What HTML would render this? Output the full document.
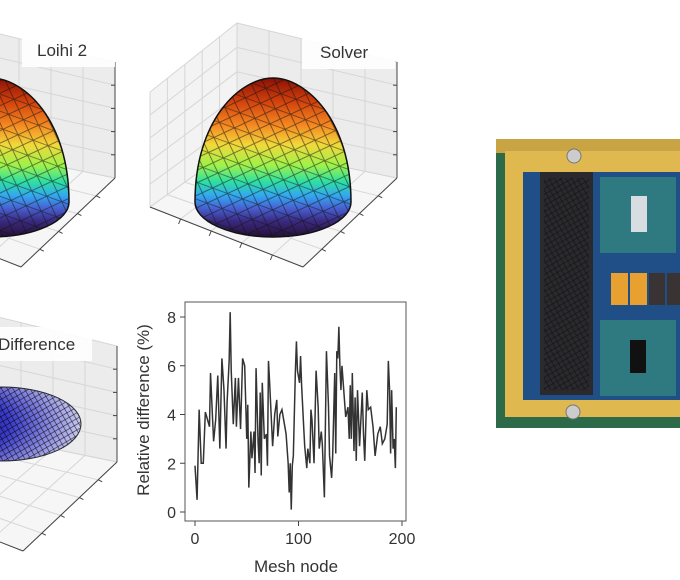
<!DOCTYPE html>
<html><head><meta charset="utf-8"><style>
html,body{margin:0;padding:0;background:#fff}
svg{display:block;font-family:"Liberation Sans",sans-serif}
</style></head><body>
<svg id="fig" width="680" height="580" viewBox="0 0 680 580">
<defs>
<linearGradient id="turbo" x1="0" y1="0" x2="0" y2="1">
<stop offset="0" stop-color="#8a1005"/><stop offset="0.15" stop-color="#d2420d"/>
<stop offset="0.3" stop-color="#f58a22"/><stop offset="0.42" stop-color="#f2d83a"/>
<stop offset="0.55" stop-color="#9ef24a"/><stop offset="0.65" stop-color="#2fe0a0"/>
<stop offset="0.74" stop-color="#32a8f0"/><stop offset="0.82" stop-color="#4760d0"/>
<stop offset="0.9" stop-color="#3a2a80"/><stop offset="1" stop-color="#251035"/></linearGradient>
<radialGradient id="diffg" cx="0.1" cy="0.5" r="0.9">
<stop offset="0" stop-color="#0a0a80"/><stop offset="0.5" stop-color="#3a3ac8"/><stop offset="1" stop-color="#c8c8f0"/></radialGradient>
<pattern id="mesh" width="16" height="16" patternUnits="userSpaceOnUse" patternTransform="rotate(20)">
<path d="M0 0L16 16M16 0L0 16M0 8H16" stroke="#111" stroke-width="0.8" fill="none"/></pattern>
<pattern id="fine" width="7" height="7" patternUnits="userSpaceOnUse" patternTransform="rotate(15)">
<path d="M0 0L7 7M7 0L0 7" stroke="#000" stroke-width="0.6" fill="none"/></pattern>
<clipPath id="domeclip"><path id="domeShape" d="M195,202 C195,120 240,78 273,78 C306,78 351,120 351,202 A78,35 0 0 1 195,202Z"/></clipPath>
</defs>
<g id="boxes"></g>
<g id="domes"></g>
<g id="linechart"></g>
<g id="photo">
<rect x="496" y="139" width="184" height="289" fill="#2d6a4a"/>
<rect x="496" y="139" width="184" height="14" fill="#c9a444"/>
<rect x="505" y="151" width="175" height="266" fill="#e0b850"/>
<rect x="523" y="172" width="157" height="228" fill="#1f4f86"/>
<rect x="540" y="172" width="53" height="223" fill="#2a2a2e"/>
<rect x="544" y="178" width="45" height="212" fill="url(#fine)" opacity="0.6"/>
<rect x="600" y="177" width="76" height="76" fill="#2f7a80"/>
<rect x="631" y="196" width="16" height="36" fill="#d8dde2"/>
<rect x="600" y="320" width="76" height="76" fill="#2f7a80"/>
<rect x="630" y="340" width="16" height="33" fill="#111"/>
<rect x="611" y="273" width="17" height="32" fill="#e8a030"/>
<rect x="630" y="273" width="17" height="32" fill="#e8a030"/>
<rect x="649" y="273" width="16" height="32" fill="#3a3333"/>
<rect x="667" y="273" width="13" height="32" fill="#3a3333"/>
<circle cx="574" cy="156" r="7" fill="#ccc" stroke="#777"/>
<circle cx="573" cy="412" r="7" fill="#ccc" stroke="#777"/>
</g>
</svg>
<script>
const NS="http://www.w3.org/2000/svg";
function mk(tag,attrs,parent){const e=document.createElementNS(NS,tag);for(const k in attrs)e.setAttribute(k,attrs[k]);parent.appendChild(e);return e;}
const lerp=(a,b,t)=>[a[0]+(b[0]-a[0])*t,a[1]+(b[1]-a[1])*t];
function box(dx,dy,name){
  const g=mk('g',{},document.getElementById('boxes'));
  
  
  const P=p=>[p[0]+dx,p[1]+dy];
  const LT=P([150,92]),BT=P([237,23]),LB=P([150,207]),BB=P([237,145]),RT=P([397,62]),RB=P([397,178]),F=P([303,267]);
  const poly=(pts,f)=>mk('polygon',{points:pts.map(p=>p.join(',')).join(' '),fill:f},g);
  poly([LT,BT,BB,LB],'#f3f3f3');poly([BT,RT,RB,BB],'#ececec');poly([LB,BB,RB,F],'#f6f6f6');
  const ln=(a,b,c,w)=>mk('line',{x1:a[0],y1:a[1],x2:b[0],y2:b[1],stroke:c||'#d6d6d6','stroke-width':w||1},g);
  for(let i=0;i<=5;i++){const t=i/5;ln(lerp(LT,BT,t),lerp(LB,BB,t));ln(lerp(LT,LB,t),lerp(BT,BB,t));
    ln(lerp(BT,RT,t),lerp(BB,RB,t));ln(lerp(BT,BB,t),lerp(RT,RB,t));
    ln(lerp(LB,BB,t),lerp(F,RB,t));ln(lerp(LB,F,t),lerp(BB,RB,t));}
  ln(LB,F,'#444');ln(F,RB,'#444');ln(RT,RB,'#444');
  for(let i=1;i<=4;i++){const a=lerp(RT,RB,i/5);ln(a,[a[0]-4,a[1]],'#444');
    const b=lerp(LB,F,i/5);ln(b,[b[0]-2,b[1]+5],'#444');const c=lerp(F,RB,i/5);ln(c,[c[0]+4,c[1]+2],'#444');}
}
box(0,0,'solver-3d-axes');box(-282,0,'loihi-3d-axes');box(-280,284,'difference-3d-axes');
const D=document.getElementById('domes');
function dome(dx,name){
  const g=mk('g',{transform:`translate(${dx},0)`},D);
  
  
  mk('path',{d:document.getElementById('domeShape').getAttribute('d'),fill:'url(#turbo)',stroke:'#111','stroke-width':1.5},g);
  const c=mk('g',{'clip-path':'url(#domeclip)'},g);
  mk('rect',{x:190,y:75,width:170,height:170,fill:'url(#mesh)',opacity:0.6},c);
}
dome(0,'solver-surface');dome(-282,'loihi-surface');
function label(x,y,w,t,tx,name){const g=mk('g',{},D);
  
  
  mk('rect',{x:x,y:y,width:w,height:34,fill:'#fff',opacity:0.9},g);
  const e=mk('text',{x:tx,y:y+23,'font-size':17,fill:'#333'},g);e.textContent=t;}
label(302,35,93,'Solver',320,'solver-title');label(22,33,93,'Loihi 2',37,'loihi-title');
label(0,327,92,'Difference',-2,'difference-title');
const dg=mk('g',{},D);


mk('ellipse',{cx:2,cy:424,rx:79,ry:37,fill:'url(#diffg)'},dg);
mk('ellipse',{cx:2,cy:424,rx:79,ry:37,fill:'url(#fine)',opacity:0.85,stroke:'#111'},dg);

// ---- line chart ----
const nodes=[0,2,4,6,8,10,12,14,15,17,18,20,22,24,26,28,30,31,33,34,35,37,39,40,42,44,46,48,50,51,52,54,55,57,58,59,61,62,63,64,65,67,69,70,71,72,74,75,77,79,80,82,84,86,88,90,91,92,93,94,95,97,98,99,101,102,103,105,106,108,109,111,112,113,115,117,119,120,122,123,125,127,129,130,132,133,135,136,137,138,139,140,141,142,145.6,147.8,149,150,151,152,153.6,154.7,155.8,157,158,159,161.6,162.8,164,166,167.4,169.7,172,174,176.6,179,181,183.4,185.7,186.8,188,189,190,191.4,192.5,193.6,194.5];
const values=[1.9,0.5,4.2,2.0,2.0,4.1,3.8,3.5,5.7,3.8,2.9,3.8,5.6,2.6,6.3,5.0,2.6,4.5,6.2,8.2,5.8,3.6,5.5,3.5,5.5,3.4,6.3,6.0,3.0,4.4,1.0,3.3,2.2,3.3,1.6,5.9,2.8,2.0,4.9,1.5,5.3,3.0,3.2,1.9,6.2,5.4,3.6,2.7,4.0,4.6,3.1,4.0,4.2,3.7,3.2,2.0,0.8,2.0,0.1,1.9,2.3,5.8,7.0,5.8,5.3,6.4,5.2,3.5,2.7,1.8,2.6,2.0,4.2,3.8,2.0,5.8,4.3,2.6,3.3,2.8,0.6,6.6,4.3,2.3,1.4,2.3,5.7,2.4,6.6,6.3,7.6,6.0,5.0,6.0,3.9,4.3,3.0,5.2,3.0,5.7,2.5,4.7,2.1,5.0,3.9,2.7,4.9,3.2,2.1,5.0,4.2,4.3,3.5,2.3,3.2,3.5,2.8,3.0,3.6,6.2,5.0,2.4,5.0,2.6,3.0,1.8,4.3];
const xTicks=[0,100,200];
const yTicks=[0,2,4,6,8];
const L=document.getElementById('linechart');
const X0=185,X1=406,Y0=302,Y1=521;
const xs=v=>195+(v/200)*207, ys=v=>512-(v/8)*195;
const fr=mk('rect',{x:X0,y:Y0,width:X1-X0,height:Y1-Y0,fill:'none',stroke:'#555','stroke-width':1},L);


xTicks.forEach(t=>{mk('line',{x1:xs(t),y1:Y1,x2:xs(t),y2:Y1+5,stroke:'#444'},L);
  const e=mk('text',{x:xs(t),y:Y1+23,'font-size':16,fill:'#333','text-anchor':'middle'},L);e.textContent=t;
  
  });
yTicks.forEach(t=>{mk('line',{x1:X0-5,y1:ys(t),x2:X0,y2:ys(t),stroke:'#444'},L);
  const e=mk('text',{x:X0-9,y:ys(t)+6,'font-size':16,fill:'#333','text-anchor':'end'},L);e.textContent=t;
  
  });
const xt=mk('text',{x:296,y:572,'font-size':17,fill:'#333','text-anchor':'middle'},L);xt.textContent='Mesh node';


const yt=mk('text',{x:0,y:0,'font-size':17,fill:'#333','text-anchor':'middle',transform:'translate(149,410) rotate(-90)'},L);yt.textContent='Relative difference (%)';


const line=mk('polyline',{points:nodes.map((n,i)=>xs(n)+','+ys(values[i])).join(' '),fill:'none',stroke:'#333','stroke-width':1.5},L);


</script>
</body></html>
